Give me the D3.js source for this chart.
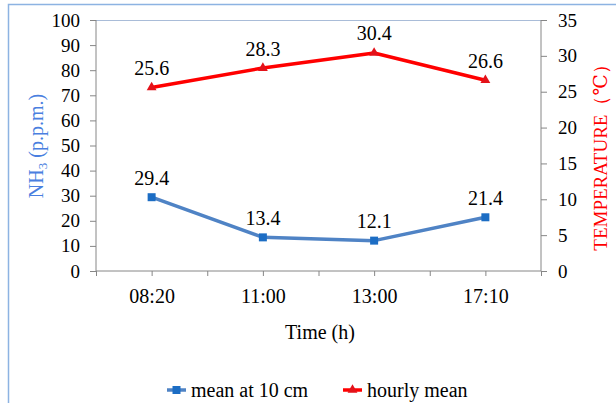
<!DOCTYPE html>
<meta charset="utf-8">
<head>
    <script src="https://d3js.org/d3.v7.min.js"></script>
    <style>
        body { margin: 0; background: white; }
        svg text { font-family: "Liberation Serif", "DejaVu Serif", serif !important; fill: black; }
        .axis path, .axis line { stroke: #868686; }
    </style>
</head>
<body>
<script type="text/javascript">

    // chart data
    var times = ["08:20", "11:00", "13:00", "17:10"];
    var nh3 = [29.4, 13.4, 12.1, 21.4];          // mean at 10 cm (left axis)
    var temperature = [25.6, 28.3, 30.4, 26.6];   // hourly mean (right axis)
    var leftTicks = [0, 10, 20, 30, 40, 50, 60, 70, 80, 90, 100];
    var rightTicks = [0, 5, 10, 15, 20, 25, 30, 35];

    var width = 616;
    var height = 403;
    var plot = {left: 96, right: 541, top: 20, bottom: 271};
    var serif = "'Liberation Serif', 'Times New Roman', serif";

    var blueLine = "#4F83C5";
    var blueMark = "#1C6DC4";
    var redLine = "#FF0000";
    var redMark = "#E3121A";

    var svg = d3.select("body")
        .append("svg")
        .attr("width", width)
        .attr("height", height)
        .style("font-family", serif);

    // outer chart border
    svg.append("rect")
        .attr("x", 8.5)
        .attr("y", 4.5)
        .attr("width", 700)
        .attr("height", 500)
        .attr("fill", "white")
        .attr("stroke", "#8DB3E2")
        .attr("stroke-width", 1.5);

    // scales
    var x = d3.scalePoint()
        .domain(times)
        .range([plot.left, plot.right])
        .padding(0.5);
    var xTicks = d3.scaleLinear()
        .domain([0, times.length])
        .range([plot.left, plot.right]);
    var yLeft = d3.scaleLinear()
        .domain([0, 100])
        .range([plot.bottom, plot.top]);
    var yRight = d3.scaleLinear()
        .domain([0, 35])
        .range([plot.bottom, plot.top]);

    // top line of plot area
    svg.append("line")
        .attr("x1", plot.left)
        .attr("x2", plot.right)
        .attr("y1", plot.top + 0.5)
        .attr("y2", plot.top + 0.5)
        .attr("stroke", "#A9BCD8");

    // axes
    svg.append("g")
        .attr("class", "axis")
        .attr("transform", "translate(" + plot.left + ",0)")
        .call(d3.axisLeft(yLeft).tickValues(leftTicks).tickSize(6).tickPadding(10))
        .attr("font-family", serif)
        .call(function (g) { g.select(".domain").attr("d", "M0," + plot.top + "V" + plot.bottom); })
        .selectAll("text")
        .style("font-family", serif)
        .style("font-size", "19px");

    svg.append("g")
        .attr("class", "axis")
        .attr("transform", "translate(" + plot.right + ",0)")
        .call(d3.axisRight(yRight).tickValues(rightTicks).tickSize(6).tickPadding(11))
        .attr("font-family", serif)
        .call(function (g) { g.select(".domain").attr("d", "M0," + plot.top + "V" + plot.bottom); })
        .selectAll("text")
        .style("font-family", serif)
        .style("font-size", "19px");

    var bottomTicks = d3.range(0, times.length + 0.5, 0.5);
    svg.append("g")
        .attr("class", "axis")
        .attr("transform", "translate(0," + plot.bottom + ")")
        .call(d3.axisBottom(xTicks).tickValues(bottomTicks).tickSize(5).tickFormat(""))
        .call(function (g) { g.select(".domain").attr("d", "M" + plot.left + ",0H" + plot.right); });

    svg.append("g")
        .attr("transform", "translate(0," + plot.bottom + ")")
        .call(d3.axisBottom(x).tickSize(0).tickPadding(18))
        .attr("font-family", serif)
        .call(function (g) { g.select(".domain").remove(); })
        .selectAll("text")
        .style("font-family", serif)
        .style("font-size", "20px");

    // axis titles
    var leftTitle = svg.append("text")
        .attr("transform", "translate(42.5,146) rotate(-90)")
        .attr("text-anchor", "middle")
        .style("font-family", serif)
        .style("font-size", "20px")
        .style("fill", "#4A7FE0");
    leftTitle.append("tspan").text("NH");
    leftTitle.append("tspan").attr("dy", 4).style("font-size", "13px").text("3");
    leftTitle.append("tspan").attr("dy", -4).text(" (p.p.m.)");

    svg.append("text")
        .attr("transform", "translate(607,153) rotate(-90)")
        .attr("text-anchor", "middle")
        .style("font-family", serif)
        .style("font-size", "19px")
        .style("fill", "#FF0000")
        .text("TEMPERATURE（℃）");

    svg.append("text")
        .attr("x", 320)
        .attr("y", 339)
        .attr("text-anchor", "middle")
        .style("font-family", serif)
        .style("font-size", "20px")
        .text("Time (h)");

    // lines
    var lineBlue = d3.line()
        .x(function (d, i) { return x(times[i]); })
        .y(function (d) { return yLeft(d); });
    var lineRed = d3.line()
        .x(function (d, i) { return x(times[i]); })
        .y(function (d) { return yRight(d); });

    svg.append("path")
        .datum(nh3)
        .attr("d", lineBlue)
        .attr("fill", "none")
        .attr("stroke", blueLine)
        .attr("stroke-width", 3.5)
        .attr("stroke-linejoin", "round");

    svg.append("path")
        .datum(temperature)
        .attr("d", lineRed)
        .attr("fill", "none")
        .attr("stroke", redLine)
        .attr("stroke-width", 3.5)
        .attr("stroke-linejoin", "round");

    // markers
    var square = d3.symbol().type(d3.symbolSquare).size(64);
    var triangle = d3.symbol().type(d3.symbolTriangle).size(42);

    svg.selectAll(".mblue")
        .data(nh3)
        .enter()
        .append("path")
        .attr("class", "mblue")
        .attr("d", square)
        .attr("fill", blueMark)
        .attr("transform", function (d, i) {
            return "translate(" + x(times[i]) + "," + yLeft(d) + ")";
        });

    svg.selectAll(".mred")
        .data(temperature)
        .enter()
        .append("path")
        .attr("class", "mred")
        .attr("d", triangle)
        .attr("fill", redMark)
        .attr("transform", function (d, i) {
            return "translate(" + x(times[i]) + "," + yRight(d) + ")";
        });

    // data labels
    svg.selectAll(".lblue")
        .data(nh3)
        .enter()
        .append("text")
        .attr("class", "lblue")
        .attr("x", function (d, i) { return x(times[i]); })
        .attr("y", function (d) { return yLeft(d) - 12.5; })
        .attr("text-anchor", "middle")
        .style("font-family", serif)
        .style("font-size", "20px")
        .text(function (d) { return d.toFixed(1); });

    svg.selectAll(".lred")
        .data(temperature)
        .enter()
        .append("text")
        .attr("class", "lred")
        .attr("x", function (d, i) { return x(times[i]); })
        .attr("y", function (d) { return yRight(d) - 12.5; })
        .attr("text-anchor", "middle")
        .style("font-family", serif)
        .style("font-size", "20px")
        .text(function (d) { return d.toFixed(1); });

    // legend
    var legend = [
        {name: "mean at 10 cm", line: blueLine, mark: blueMark, shape: square, x: 167},
        {name: "hourly mean", line: redLine, mark: redMark, shape: triangle, x: 343}
    ];
    var lg = svg.selectAll(".legend")
        .data(legend)
        .enter()
        .append("g")
        .attr("class", "legend")
        .attr("transform", function (d) { return "translate(" + d.x + ",390)"; });
    lg.append("line")
        .attr("x1", 0)
        .attr("x2", 19)
        .attr("stroke", function (d) { return d.line; })
        .attr("stroke-width", 3.5);
    lg.append("path")
        .attr("d", function (d) { return d.shape(); })
        .attr("transform", "translate(9.5,0)")
        .attr("fill", function (d) { return d.mark; });
    lg.append("text")
        .attr("x", 24)
        .attr("y", 7)
        .style("font-family", serif)
        .style("font-size", "20px")
        .text(function (d) { return d.name; });

</script>
</body>
</html>
